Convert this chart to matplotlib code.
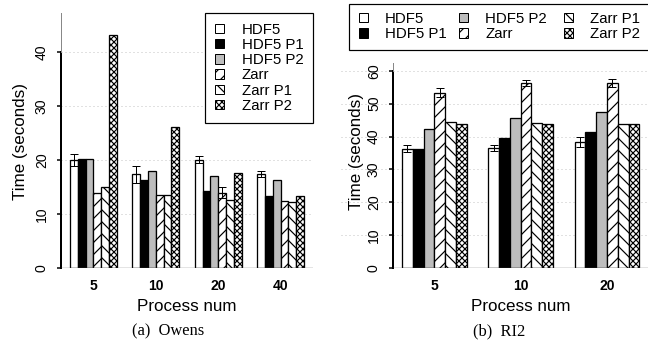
import matplotlib
matplotlib.use("Agg")
import matplotlib.pyplot as plt
from matplotlib.patches import Patch, Rectangle
import numpy as np

# ---------------- data ----------------
series = ["HDF5", "HDF5 P1", "HDF5 P2", "Zarr", "Zarr P1", "Zarr P2"]

owens_procs = ["5", "10", "20", "40"]
owens_hdf5 = [20.0, 17.4, 20.1, 17.4]
owens_hdf5_p1 = [20.2, 16.3, 14.3, 13.4]
owens_hdf5_p2 = [20.3, 18.0, 17.0, 16.4]
owens_zarr = [14.0, 13.6, 14.0, 12.5]
owens_zarr_p1 = [15.1, 13.5, 12.6, 12.2]
owens_zarr_p2 = [43.2, 26.2, 17.6, 13.3]
owens_hdf5_err = [1.1, 1.6, 0.6, 0.5]
owens_zarr_err = [0.0, 0.0, 1.0, 0.0]

ri2_procs = ["5", "10", "20"]
ri2_hdf5 = [36.3, 36.5, 38.3]
ri2_hdf5_p1 = [36.2, 39.7, 41.5]
ri2_hdf5_p2 = [42.3, 45.7, 47.5]
ri2_zarr = [53.4, 56.4, 56.3]
ri2_zarr_p1 = [44.4, 44.1, 43.8]
ri2_zarr_p2 = [43.9, 43.9, 43.8]
ri2_hdf5_err = [1.1, 1.0, 1.6]
ri2_zarr_err = [1.5, 0.9, 1.1]

owens_yticks = [0, 10, 20, 30, 40]
ri2_yticks = [0, 10, 20, 30, 40, 50, 60]

# ---------------- style ----------------
W, H = 648, 347
DPI = 72
plt.rcParams["font.family"] = ["Liberation Sans", "DejaVu Sans"]
plt.rcParams["hatch.linewidth"] = 1.2

facecolors = ["white", "black", "#bdbdbd", "white", "white", "white"]
hatches = [None, None, None, "//", "\\\\", "xxxx"]

fig = plt.figure(figsize=(W / DPI, H / DPI), dpi=DPI)


def px_axes(x0, y_top, x1, y_bot):
    return fig.add_axes([x0 / W, 1 - y_bot / H, (x1 - x0) / W, (y_bot - y_top) / H])


def draw_panel(ax, procs, vals, errs, yticks, ymax, xlim, grid_xmin, ylab_xy):
    n = len(procs)
    group = 8
    for s, (name, v) in enumerate(zip(series, vals)):
        x = np.arange(n) * group + s + 0.5
        ax.bar(x, v, width=1.0, color=facecolors[s], edgecolor="black",
               linewidth=1.3, hatch=hatches[s], zorder=3)
        if name in errs:
            e = np.asarray(errs[name])
            m = e > 0
            ax.errorbar(x[m], np.asarray(v)[m], yerr=e[m], fmt="none",
                        ecolor="black", elinewidth=1.0, capsize=4,
                        capthick=1.0, zorder=4)
    ax.set_xlim(*xlim)
    ax.set_ylim(0, ymax)
    for t in yticks[1:]:
        ax.axhline(t, xmin=grid_xmin, xmax=1, color="#c4c4c4", lw=1.0,
                   ls=(0, (1, 3)), zorder=1, clip_on=False)
    ax.axhline(0, color="#4d4d4d", lw=1.3, zorder=5)
    for sp in ["top", "right", "bottom"]:
        ax.spines[sp].set_visible(False)
    ax.spines["left"].set_bounds(0, yticks[-1])
    ax.spines["left"].set_linewidth(2.0)
    ax.spines["left"].set_color("black")
    ax.plot([xlim[0], xlim[0]], [yticks[-1], ymax], color="#888888",
            lw=1.0, clip_on=False, zorder=5)
    ax.set_yticks(yticks)
    ax.set_yticklabels([str(t) for t in yticks], rotation=90, va="center",
                       ha="right", fontsize=14)
    ax.tick_params(axis="y", length=4, width=1.5, pad=8)
    ax.set_xticks(np.arange(n) * group + 3)
    ax.set_xticklabels(procs, fontsize=14, fontweight="bold")
    ax.tick_params(axis="x", length=0, pad=11)
    ax.set_xlabel("Process num", fontsize=17, labelpad=6)
    ax.set_ylabel("Time (seconds)", fontsize=17)
    ax.yaxis.label.set_va("center")
    ax.yaxis.set_label_coords(*ylab_xy)
    ax.set_facecolor("none")


# ---------------- left panel (Owens) ----------------
axL = px_axes(61, 13, 313, 268)
owens_vals = [owens_hdf5, owens_hdf5_p1, owens_hdf5_p2, owens_zarr,
              owens_zarr_p1, owens_zarr_p2]
draw_panel(axL, owens_procs, owens_vals,
           {"HDF5": owens_hdf5_err, "Zarr": owens_zarr_err},
           owens_yticks, 47.3, (-1.15, 31.15), 0.0,
           ((21 - 61) / 252, (268 - 141) / 255))

handles = [Patch(facecolor=facecolors[i], edgecolor="black", linewidth=1.0,
                 hatch=hatches[i], label=series[i]) for i in range(6)]
legL = axL.legend(handles=handles, loc="upper right", bbox_to_anchor=(1, 1),
                  borderaxespad=0, fontsize=15, frameon=True, fancybox=False,
                  edgecolor="black", framealpha=1, handlelength=0.6,
                  handleheight=0.6, handletextpad=1.2, labelspacing=0.08,
                  borderpad=0.65)
legL.get_frame().set_linewidth(1.2)
legL.set_zorder(10)

# ---------------- right panel (RI2) ----------------
axR = px_axes(393, 63, 648, 268)
ri2_vals = [ri2_hdf5, ri2_hdf5_p1, ri2_hdf5_p2, ri2_zarr, ri2_zarr_p1,
            ri2_zarr_p2]
draw_panel(axR, ri2_procs, ri2_vals,
           {"HDF5": ri2_hdf5_err, "Zarr": ri2_zarr_err},
           ri2_yticks, 62.4, (-0.83, 22.8), (341 - 393) / 255,
           ((356 - 393) / 255, (268 - 151) / 205))

# right legend: frame + three columns
fig.patches.append(Rectangle((349 / W, 1 - 50 / H), 320 / W, 46 / H,
                             transform=fig.transFigure, facecolor="white",
                             edgecolor="black", lw=1.2, zorder=1))
col_x = [359, 459, 564]
for c in range(3):
    hs = handles[2 * c:2 * c + 2]
    lg = fig.legend(handles=hs, loc="upper left",
                    bbox_to_anchor=(col_x[c] / W, 1 - 12 / H),
                    fontsize=15, frameon=False, handlelength=0.6,
                    handleheight=0.6, handletextpad=1.15, labelspacing=0.1,
                    borderpad=0, borderaxespad=0)
    lg.set_zorder(11)

# captions
fig.text(168 / W, 1 - 331 / H, "(a)  Owens", ha="center", va="center",
         fontsize=16.5, family=["Liberation Serif", "DejaVu Serif"])
fig.text(499 / W, 1 - 331 / H, "(b)  RI2", ha="center", va="center",
         fontsize=16.5, family=["Liberation Serif", "DejaVu Serif"])

fig.savefig("out.png", dpi=DPI)
